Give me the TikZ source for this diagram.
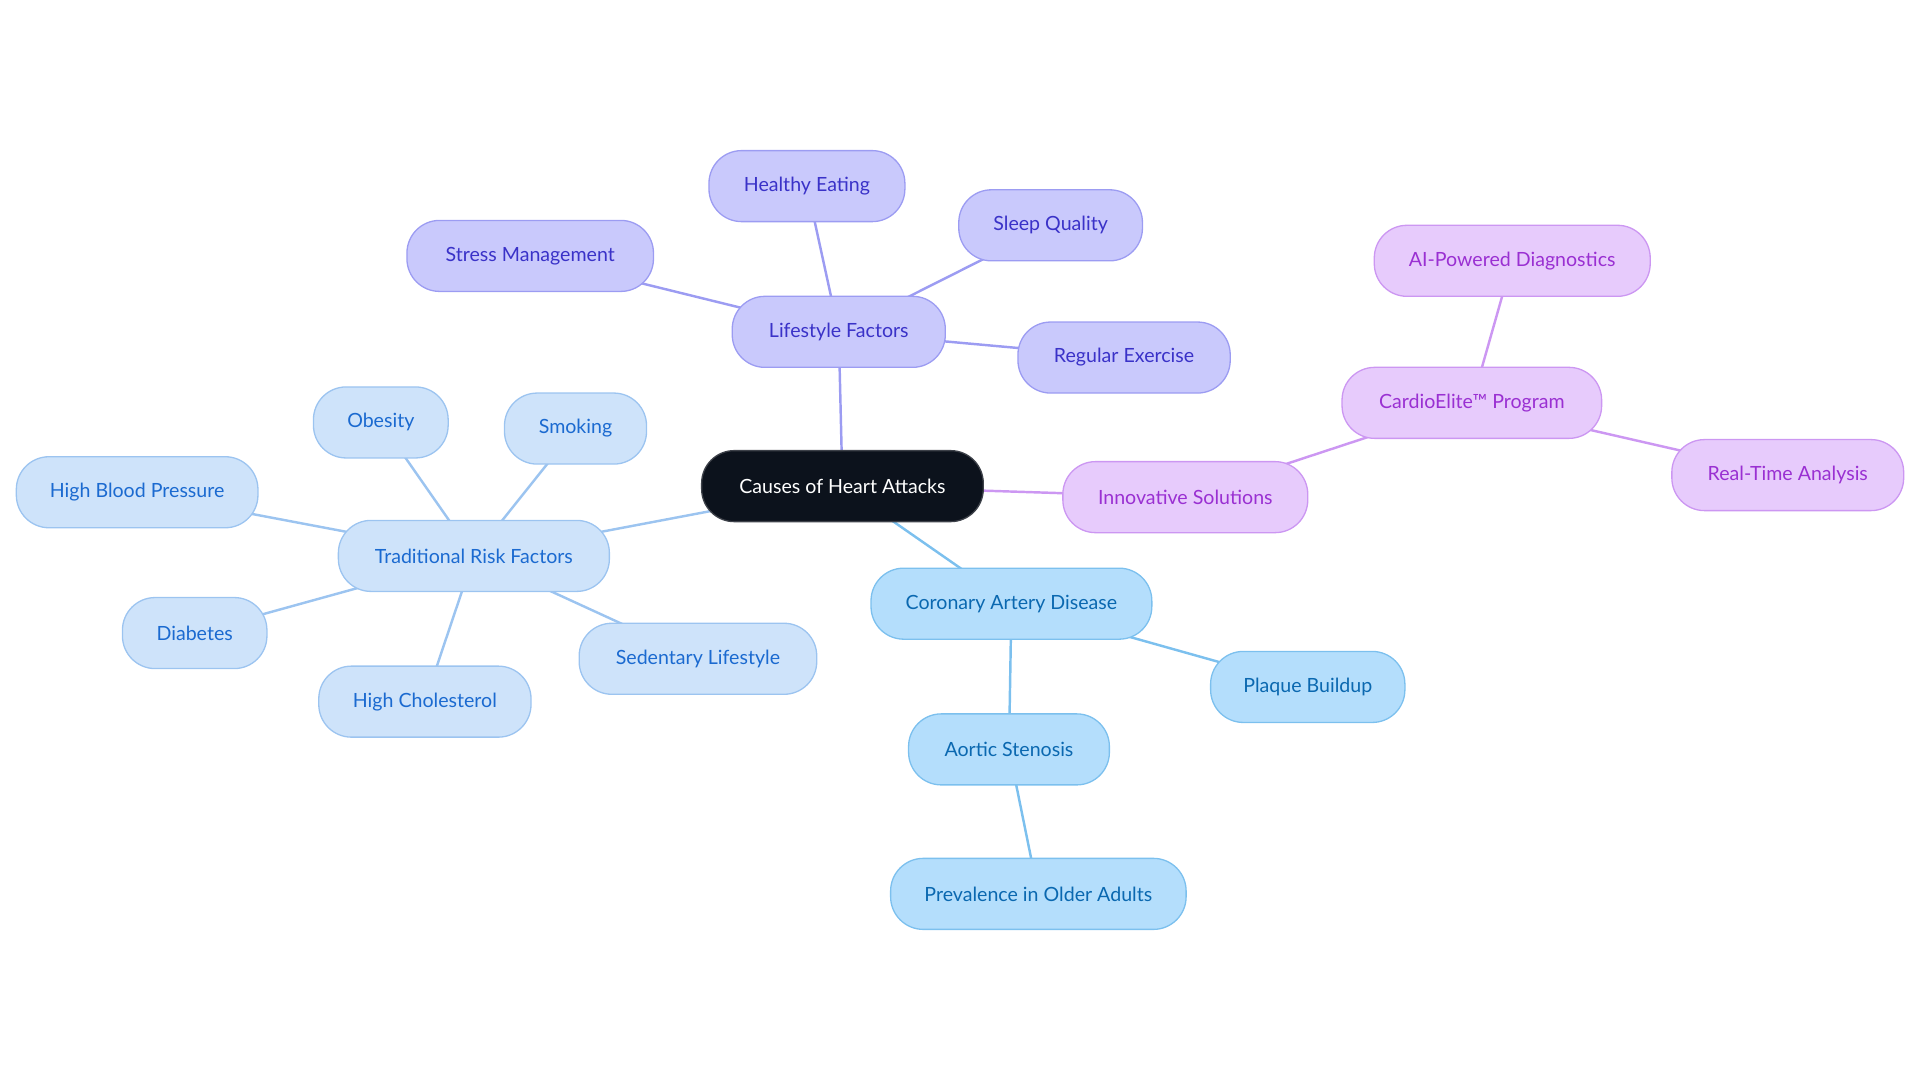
\documentclass[tikz,border=0pt]{standalone}
\usepackage{fontspec}
\setmainfont{Lato}
\usepackage{xcolor}
\usetikzlibrary{backgrounds}

\definecolor{rootfill}{HTML}{0C121C}
\definecolor{lifefill}{HTML}{C9C9FC}
\definecolor{lifedraw}{HTML}{9C9CF2}
\definecolor{lifetext}{HTML}{3A32C8}
\definecolor{tradfill}{HTML}{CEE3FA}
\definecolor{traddraw}{HTML}{9CC4F0}
\definecolor{tradtext}{HTML}{1B6AD0}
\definecolor{corofill}{HTML}{B4DEFC}
\definecolor{corodraw}{HTML}{7CC0EE}
\definecolor{corotext}{HTML}{0A68B0}
\definecolor{innofill}{HTML}{E7CBFC}
\definecolor{innodraw}{HTML}{CC97F2}
\definecolor{innotext}{HTML}{9A30D2}

\begin{document}
\begin{tikzpicture}[x=0.75pt,y=-0.75pt]
        \tikzset{topic/.style={rectangle, rounded corners=20pt,
                    minimum height=43.5pt, inner sep=0pt,
                    line width=0.8pt, align=center, font=\fontsize{12}{14}\selectfont},
                 root/.style={topic, fill=rootfill, draw=rootfill!80!white, text=white},
                 life/.style={topic, fill=lifefill, draw=lifedraw, text=lifetext},
                 trad/.style={topic, fill=tradfill, draw=traddraw, text=tradtext},
                 coro/.style={topic, fill=corofill, draw=corodraw, text=corotext},
                 inno/.style={topic, fill=innofill, draw=innodraw, text=innotext},
                 link/.style={line width=1.5pt}}
        \useasboundingbox (0,0) rectangle (1568,884);

        % central topic
        \node[root, minimum width=172.5pt] (causes) at (688,397) {Causes of Heart Attacks};

        % lifestyle branch
        \node[life, minimum width=130.5pt] (lifestyle) at (685,271) {Lifestyle Factors};
        \node[life, minimum width=120pt] (eating) at (659,152) {Healthy Eating};
        \node[life, minimum width=112.5pt] (sleep) at (858,184) {Sleep Quality};
        \node[life, minimum width=151pt] (stress) at (433,209) {Stress Management};
        \node[life, minimum width=130pt] (exercise) at (918,292) {Regular Exercise};

        % traditional branch
        \node[trad, minimum width=166pt] (traditional) at (387,454) {Traditional Risk Factors};
        \node[trad, minimum width=82.5pt] (obesity) at (311,345) {Obesity};
        \node[trad, minimum width=87pt] (smoking) at (470,350) {Smoking};
        \node[trad, minimum width=148pt] (pressure) at (112,402) {High Blood Pressure};
        \node[trad, minimum width=88.5pt] (diabetes) at (159,517) {Diabetes};
        \node[trad, minimum width=130pt] (cholesterol) at (347,573) {High Cholesterol};
        \node[trad, minimum width=145.5pt] (sedentary) at (570,538) {Sedentary Lifestyle};

        % coronary branch
        \node[coro, minimum width=172pt] (coronary) at (826,493) {Coronary Artery Disease};
        \node[coro, minimum width=119pt] (plaque) at (1068,561) {Plaque Buildup};
        \node[coro, minimum width=123pt] (aortic) at (824,612) {Aortic Stenosis};
        \node[coro, minimum width=181pt] (older) at (848,730) {Prevalence in Older Adults};

        % innovative branch
        \node[inno, minimum width=150pt] (innovative) at (968,406) {Innovative Solutions};
        \node[inno, minimum width=159pt] (cardio) at (1202,329) {CardioElite™ Program};
        \node[inno, minimum width=169pt] (diagnostics) at (1235,213) {AI-Powered Diagnostics};
        \node[inno, minimum width=142pt] (realtime) at (1460,388) {Real-Time Analysis};

        % connectors, behind the nodes
        \begin{scope}[on background layer]
        \draw[link, lifedraw] (causes.center) -- (lifestyle.center);
        \foreach \n in {eating,sleep,stress,exercise}
            \draw[link, lifedraw] (lifestyle.center) -- (\n.center);
        \draw[link, traddraw] (causes.center) -- (traditional.center);
        \foreach \n in {obesity,smoking,pressure,diabetes,cholesterol,sedentary}
            \draw[link, traddraw] (traditional.center) -- (\n.center);
        \draw[link, corodraw] (causes.center) -- (coronary.center);
        \draw[link, corodraw] (coronary.center) -- (plaque.center);
        \draw[link, corodraw] (coronary.center) -- (aortic.center);
        \draw[link, corodraw] (aortic.center) -- (older.center);
        \draw[link, innodraw] (causes.center) -- (innovative.center);
        \draw[link, innodraw] (innovative.center) -- (cardio.center);
        \draw[link, innodraw] (cardio.center) -- (diagnostics.center);
        \draw[link, innodraw] (cardio.center) -- (realtime.center);
        \end{scope}
    \end{tikzpicture}
\end{document}
